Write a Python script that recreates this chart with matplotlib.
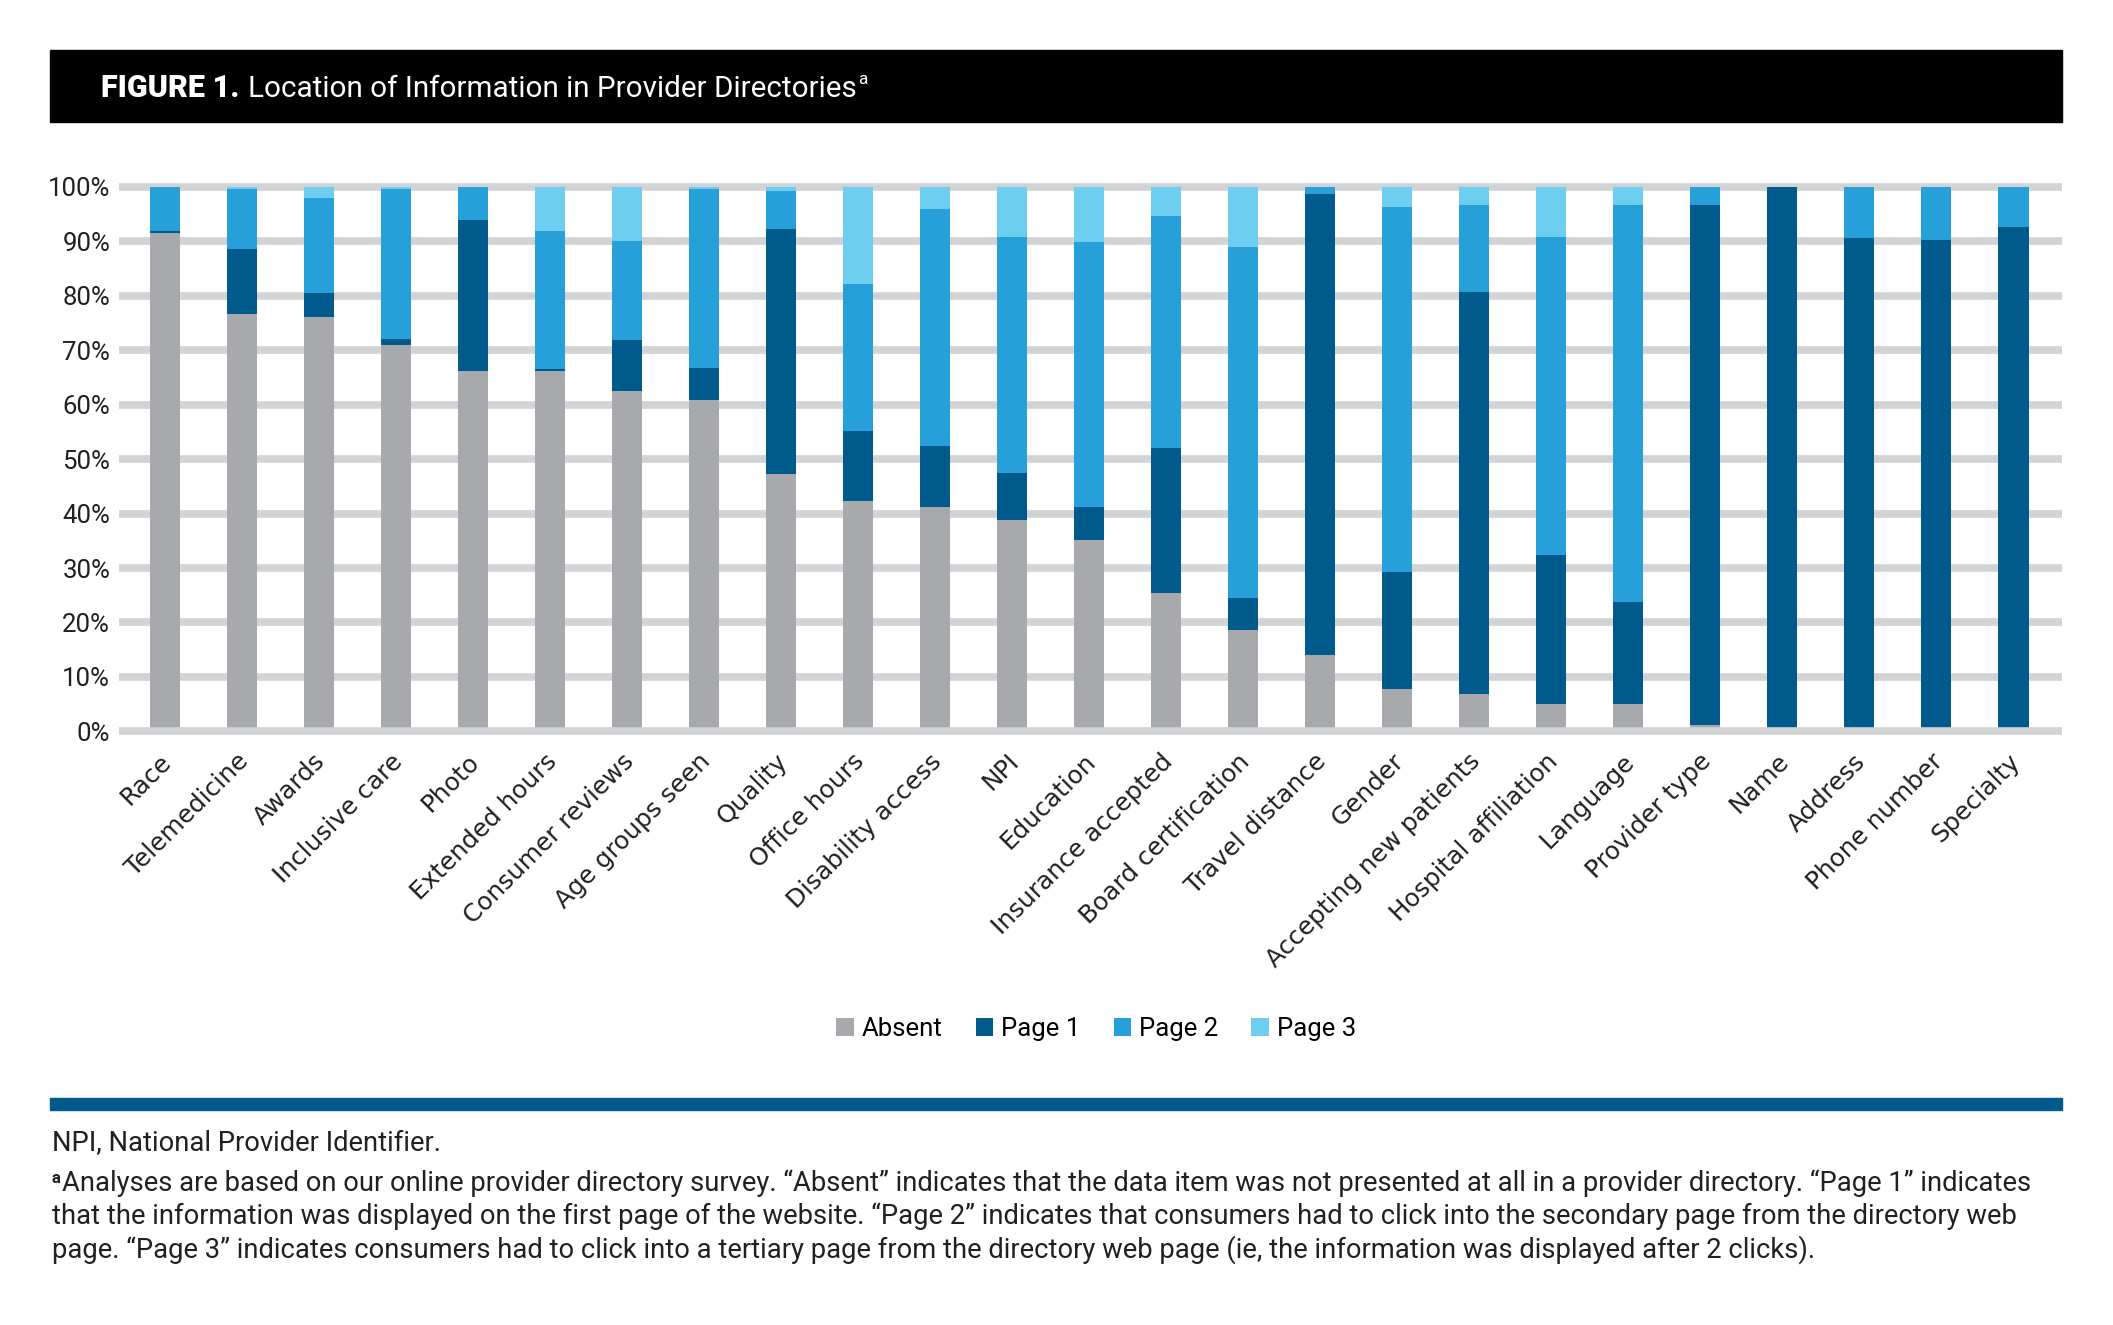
import matplotlib
matplotlib.use('Agg')
import matplotlib.pyplot as plt
from matplotlib.patches import Patch, Rectangle
from matplotlib.transforms import ScaledTranslation
import numpy as np

categories = ["Race", "Telemedicine", "Awards", "Inclusive care", "Photo", "Extended hours",
              "Consumer reviews", "Age groups seen", "Quality", "Office hours", "Disability access",
              "NPI", "Education", "Insurance accepted", "Board certification", "Travel distance",
              "Gender", "Accepting new patients", "Hospital affiliation", "Language", "Provider type",
              "Name", "Address", "Phone number", "Specialty"]
absent = [91.6, 76.6, 76.1, 71.0, 66.2, 66.2, 62.5, 60.9, 47.2, 42.3, 41.2, 38.8, 35.1, 25.4,
          18.6, 14.1, 7.7, 6.9, 5.0, 5.0, 1.2, 0.0, 0.0, 0.0, 0.0]
page1 = [0.3, 12.0, 4.4, 1.1, 27.7, 0.3, 9.3, 5.9, 45.1, 12.9, 11.2, 8.7, 6.1, 26.6,
         5.9, 84.6, 21.5, 73.8, 27.4, 18.8, 95.4, 100.0, 90.6, 90.2, 92.7]
page2 = [8.1, 11.0, 17.5, 27.5, 6.1, 25.4, 18.2, 32.8, 7.0, 27.0, 43.5, 43.3, 48.7, 42.7,
         64.5, 1.3, 67.1, 15.9, 58.4, 72.8, 3.4, 0.0, 9.4, 9.8, 7.3]
page3 = [0.0, 0.4, 2.0, 0.4, 0.0, 8.1, 10.0, 0.4, 0.7, 17.8, 4.1, 9.2, 10.1, 5.3,
         11.0, 0.0, 3.7, 3.4, 9.2, 3.4, 0.0, 0.0, 0.0, 0.0, 0.0]
series_names = ["Absent", "Page 1", "Page 2", "Page 3"]
ytick_values = [0, 10, 20, 30, 40, 50, 60, 70, 80, 90, 100]

title_bold = "FIGURE 1."
title_text = "Location of Information in Provider Directories"
footnote_lines = [
    "NPI, National Provider Identifier.",
    "Analyses are based on our online provider directory survey. \u201cAbsent\u201d indicates that the data item was not presented at all in a provider directory. \u201cPage 1\u201d indicates",
    "that the information was displayed on the first page of the website. \u201cPage 2\u201d indicates that consumers had to click into the secondary page from the directory web",
    "page. \u201cPage 3\u201d indicates consumers had to click into a tertiary page from the directory web page (ie, the information was displayed after 2 clicks).",
]

colors = ["#a7a9ac", "#005a8c", "#279fd9", "#6dcef0"]
grid_color = "#d1d3d4"
rule_color = "#005a8c"
TXT = "Roboto"
W, H = 2113, 1325

fig = plt.figure(figsize=(W / 100, H / 100), dpi=100)
fig.patch.set_facecolor("white")

# axes placement (pixel based)
ax_left, ax_right = 118.5, 2062
ax_top, ax_bot = 178.6, 739.6
ax = fig.add_axes([ax_left / W, 1 - ax_bot / H, (ax_right - ax_left) / W, (ax_bot - ax_top) / H])

x = np.arange(len(categories))
bottom = np.zeros(len(categories))
for vals, c, name in zip([absent, page1, page2, page3], colors, series_names):
    vals = np.array(vals)
    ax.bar(x, vals, bottom=bottom, width=0.39, color=c, zorder=2, label=name, linewidth=0)
    bottom += vals

for t in ytick_values:
    ax.axhline(t, color=grid_color, lw=5.5, zorder=3 if t == 0 else 1, solid_capstyle="butt")

ax.set_xlim(-0.608, 24.63)
ax.set_ylim(-1.5, 101.5)
for s in ax.spines.values():
    s.set_visible(False)
ax.set_yticks(ytick_values)
ax.set_yticklabels([f"{v}%" for v in ytick_values], fontsize=18.5, family=TXT, color="#231f20")
ax.tick_params(axis="y", length=0, pad=6)
ax.set_xticks(x)
ax.set_xticklabels(categories, rotation=45, ha="right", fontsize=17.8, family="DejaVu Sans", color="#231f20")
ax.tick_params(axis="x", length=0, pad=7)
off = ScaledTranslation(11 / 100, 0, fig.dpi_scale_trans)
for lab in ax.get_xticklabels():
    lab.set_transform(lab.get_transform() + off)

# header
fig.patches.append(Rectangle((50 / W, 1 - 121.5 / H), (2062 - 50) / W, 71.5 / H,
                             transform=fig.transFigure, color="black", zorder=0))
renderer = fig.canvas.get_renderer()
t1 = fig.text(100.8 / W, 1 - 97.3 / H, title_bold, color="white", fontsize=22, weight="black",
              family=TXT, va="baseline", ha="left")
e1 = t1.get_window_extent(renderer)
t2 = fig.text((e1.x1 + 9) / W, 1 - 97.3 / H, title_text, color="white", fontsize=21.3,
              family=TXT, va="baseline", ha="left")
e2 = t2.get_window_extent(renderer)
fig.text((e2.x1 + 1) / W, 1 - 84 / H, "a", color="white", fontsize=12.5, family=TXT,
         va="baseline", ha="left")

# legend
handles = [Patch(facecolor=c, edgecolor="none", label=n) for c, n in zip(colors, series_names)]
fig.legend(handles=handles, loc="center", bbox_to_anchor=(1096 / W, 1 - 1029 / H), ncol=4,
           frameon=False, prop={"family": TXT, "size": 18.5}, handlelength=0.68,
           handleheight=0.68, handletextpad=0.3, columnspacing=1.3, borderaxespad=0)

# blue rule
fig.patches.append(Rectangle((50 / W, 1 - 1110 / H), (2062 - 50) / W, 12 / H,
                             transform=fig.transFigure, color=rule_color, zorder=0))

# footnotes
fn_size = 19.7
baselines = [1151, 1191, 1224.5, 1258]
fx = 51.7
fig.text(fx / W, 1 - baselines[0] / H, footnote_lines[0], fontsize=fn_size, family=TXT,
         color="#231f20", va="baseline", ha="left")
sa = fig.text(fx / W, 1 - (baselines[1] - 8) / H, "a", fontsize=12, family=TXT, weight="bold",
              color="#231f20", va="baseline", ha="left")
ea = sa.get_window_extent(renderer)
fig.text((ea.x1 + 1) / W, 1 - baselines[1] / H, footnote_lines[1], fontsize=fn_size, family=TXT,
         color="#231f20", va="baseline", ha="left")
for line, b in zip(footnote_lines[2:], baselines[2:]):
    fig.text(fx / W, 1 - b / H, line, fontsize=fn_size, family=TXT, color="#231f20",
             va="baseline", ha="left")

fig.savefig("out.png", dpi=100, facecolor="white")
